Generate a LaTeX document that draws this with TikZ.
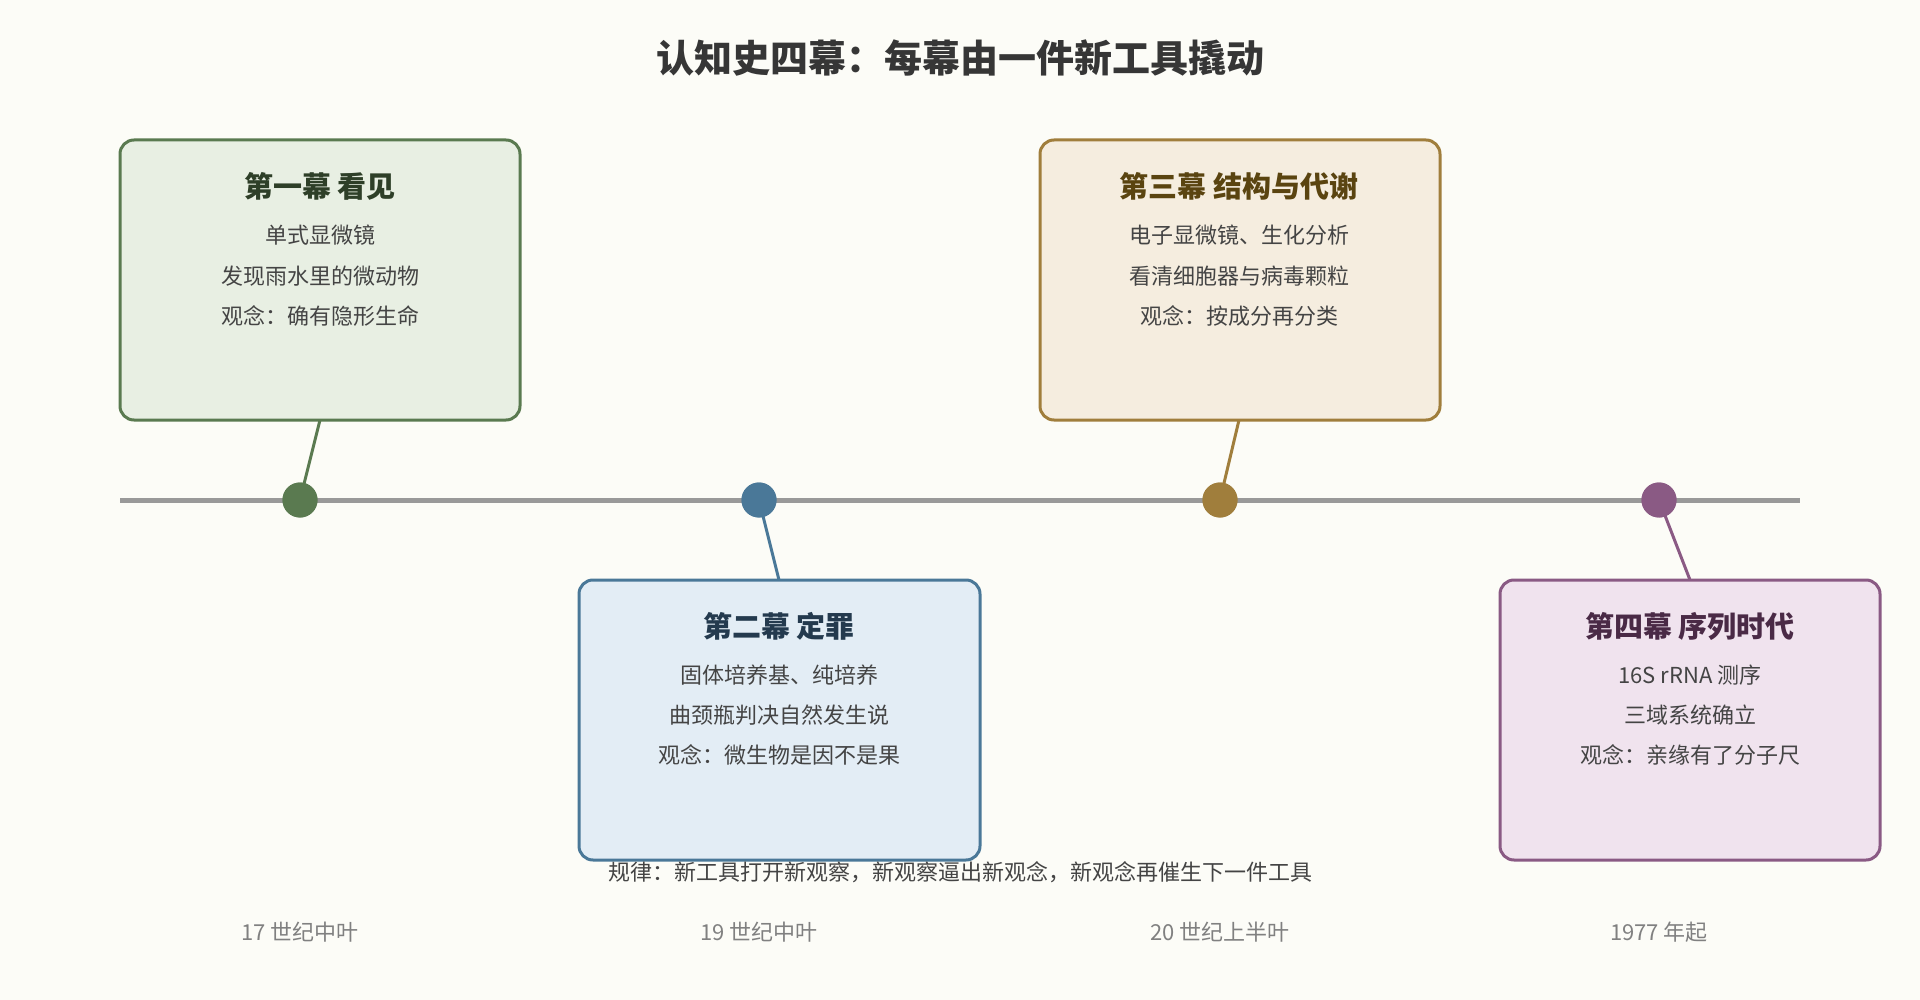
\documentclass[tikz,border=0pt]{standalone}
\usepackage{fontspec}
\setmainfont{Noto Sans CJK SC}
\newfontfamily\cjkb{Noto Sans CJK SC Bold}
\definecolor{bg}{HTML}{FCFCF7}
\definecolor{ga}{HTML}{5A7A50}\definecolor{gf}{HTML}{E8EFE3}\definecolor{gt}{HTML}{2E3F28}
\definecolor{ba}{HTML}{4A7898}\definecolor{bf}{HTML}{E3EDF5}\definecolor{bt}{HTML}{243A4E}
\definecolor{oa}{HTML}{A07E3C}\definecolor{of}{HTML}{F5EDDF}\definecolor{ot}{HTML}{5A4410}
\definecolor{pa}{HTML}{8A5A84}\definecolor{pf}{HTML}{F0E3EE}\definecolor{pt}{HTML}{4A2A46}
\definecolor{tx}{HTML}{444444}
\begin{document}
\begin{tikzpicture}[x=1pt,y=-1pt,
 box/.style={draw=#1,line width=3pt,rounded corners=14pt},
 dot/.style={circle,fill=#1,minimum size=35pt,inner sep=0pt},
 con/.style={draw=#1,line width=3pt},
 ttl/.style={font=\fontsize{29}{34}\bfseries\selectfont,text=#1},
 ln/.style={font=\fontsize{22}{26}\selectfont,text=tx},
 dt/.style={font=\fontsize{22}{26}\selectfont,text=gray}]
\fill[bg] (0,0) rectangle (1920,1000);
\node[font=\fontsize{38}{44}\bfseries\selectfont,text=tx!80!black] (title) at (960,58) {认知史四幕：每幕由一件新工具撬动};
\draw[line width=5pt,gray!80] (120,500) coordinate (ls) -- (1800,500) coordinate (le);
% connectors
\coordinate (c1) at (320,420);\coordinate (c2) at (779,580);\coordinate (c3) at (1239,420);\coordinate (c4) at (1690,580);
\node[dot=ga] (d1) at (300,500) {};
\node[dot=ba] (d2) at (759,500) {};
\node[dot=oa] (d3) at (1220,500) {};
\node[dot=pa] (d4) at (1659,500) {};
\draw[con=ga] (c1) -- (d1.center);
\draw[con=ba] (c2) -- (d2.center);
\draw[con=oa] (c3) -- (d3.center);
\draw[con=pa] (c4) -- (d4.center);
\node[dot=ga] at (300,500) {};\node[dot=ba] at (759,500) {};\node[dot=oa] at (1220,500) {};\node[dot=pa] at (1659,500) {};
\filldraw[box=ga,fill=gf] (120,140) rectangle (520,420);
\filldraw[box=ba,fill=bf] (579,580) rectangle (980,860);
\filldraw[box=oa,fill=of] (1040,140) rectangle (1440,420);
\filldraw[box=pa,fill=pf] (1500,580) rectangle (1880,860);
\node[ttl=gt] (t1) at (320,186) {第一幕 看见};
\node[ln] (a1) at (320,235) {单式显微镜};
\node[ln] (a2) at (320,276) {发现雨水里的微动物};
\node[ln] (a3) at (320,316) {观念：确有隐形生命};
\node[ttl=bt] (t2) at (779,626) {第二幕 定罪};
\node[ln] (b1) at (779,675) {固体培养基、纯培养};
\node[ln] (b2) at (779,715) {曲颈瓶判决自然发生说};
\node[ln] (b3) at (779,755) {观念：微生物是因不是果};
\node[ttl=ot] (t3) at (1239,186) {第三幕 结构与代谢};
\node[ln] (e1) at (1239,235) {电子显微镜、生化分析};
\node[ln] (e2) at (1239,276) {看清细胞器与病毒颗粒};
\node[ln] (e3) at (1239,316) {观念：按成分再分类};
\node[ttl=pt] (t4) at (1690,626) {第四幕 序列时代};
\node[ln] (f1) at (1690,675) {16S rRNA 测序};
\node[ln] (f2) at (1690,715) {三域系统确立};
\node[ln] (f3) at (1690,755) {观念：亲缘有了分子尺};
\node[ln] (foot) at (960,872) {规律：新工具打开新观察，新观察逼出新观念，新观念再催生下一件工具};
\node[dt] (y1) at (300,932) {17 世纪中叶};
\node[dt] (y2) at (759,932) {19 世纪中叶};
\node[dt] (y3) at (1220,932) {20 世纪上半叶};
\node[dt] (y4) at (1659,932) {1977 年起};
\end{tikzpicture}
\end{document}
